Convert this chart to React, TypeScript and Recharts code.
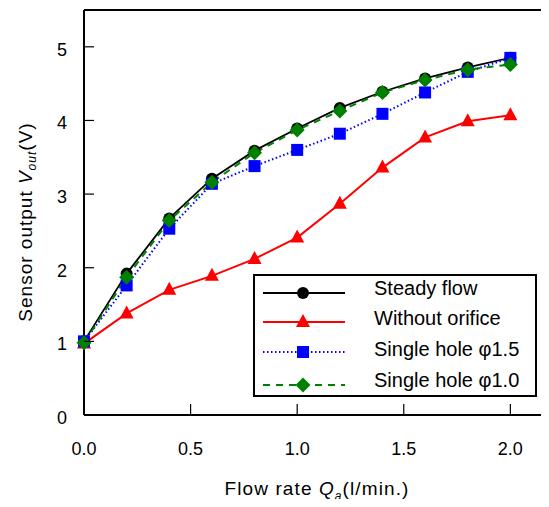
import React from 'react';
import { LineChart, Line, XAxis, YAxis, ReferenceLine, Legend } from 'recharts';

// flow rate Qa (l/min.) and sensor output Vout (V)
const flow = [0, 0.2, 0.4, 0.6, 0.8, 1.0, 1.2, 1.4, 1.6, 1.8, 2.0];
const steady = [1.0, 1.92, 2.67, 3.21, 3.59, 3.89, 4.17, 4.39, 4.57, 4.72, 4.85];
const withoutOrifice = [0.97, 1.38, 1.7, 1.89, 2.12, 2.41, 2.87, 3.36, 3.77, 3.99, 4.07];
const hole15 = [1.0, 1.76, 2.53, 3.14, 3.38, 3.6, 3.82, 4.09, 4.38, 4.66, 4.85];
const hole10 = [0.98, 1.87, 2.64, 3.16, 3.56, 3.87, 4.13, 4.38, 4.55, 4.69, 4.76];

const xTicks = [0, 0.5, 1.0, 1.5, 2.0];
const yTicks = [0, 1, 2, 3, 4, 5];

const data = flow.map((q, i) => ({
	q,
	steady: steady[i],
	without: withoutOrifice[i],
	hole15: hole15[i],
	hole10: hole10[i],
}));

const FONT = '"Liberation Sans", Arial, sans-serif';

const Marker = ({ kind, cx, cy }: { kind: string; cx: number; cy: number }) => {
	if (kind === 'circle') return <circle cx={cx} cy={cy} r={6} fill="#000" />;
	if (kind === 'triangle')
		return <polygon points={`${cx},${cy - 8} ${cx - 7},${cy + 5} ${cx + 7},${cy + 5}`} fill="#ff0000" />;
	if (kind === 'square') return <rect x={cx - 6} y={cy - 6} width={12} height={12} fill="#0000ff" />;
	return <polygon points={`${cx},${cy - 7.5} ${cx + 7.5},${cy} ${cx},${cy + 7.5} ${cx - 7.5},${cy}`} fill="#008000" />;
};

const series = [
	{ key: 'steady', name: 'Steady flow', color: '#000', dash: undefined, width: 1.8, kind: 'circle' },
	{ key: 'without', name: 'Without orifice', color: '#ff0000', dash: undefined, width: 2, kind: 'triangle' },
	{ key: 'hole15', name: 'Single hole φ1.5', color: '#0000ff', dash: '1.5 2.5', width: 2, kind: 'square' },
	{ key: 'hole10', name: 'Single hole φ1.0', color: '#008000', dash: '7 6', width: 2, kind: 'diamond' },
];

// legend rows: sample line y and text baseline inside the box
const rowY = [17, 46, 76, 109];
const textY = [19, 49, 80, 111];

const LegendBox = () => (
	<div style={{ width: 280, height: 119, border: '2px solid #000', background: '#fff' }}>
		<svg width={280} height={119} style={{ overflow: 'visible', display: 'block' }}>
			{series.map((s, i) => (
				<g key={s.key}>
					<line x1={8} x2={90} y1={rowY[i]} y2={rowY[i]} stroke={s.color} strokeWidth={s.width} strokeDasharray={s.dash} />
					<Marker kind={s.kind} cx={48} cy={rowY[i]} />
					<text x={119} y={textY[i]} fontFamily={FONT} fontSize={20} fill="#000">{s.name}</text>
				</g>
			))}
		</svg>
	</div>
);

const XTick = ({ x, y, payload }: any) => (
	<g>
		<line x1={x} x2={x} y1={y} y2={y - 11} stroke="#000" strokeWidth={1.2} />
		<text x={x} y={y + 40} textAnchor="middle" fontFamily={FONT} fontSize={18} fill="#000">
			{Number(payload.value).toFixed(1)}
		</text>
	</g>
);

const YTick = ({ x, y, payload }: any) => (
	<g>
		<line x1={x} x2={x + 10} y1={y} y2={y} stroke="#000" strokeWidth={1.2} />
		<text x={x - 17} y={y + 9} textAnchor="end" fontFamily={FONT} fontSize={18} fill="#000">
			{payload.value}
		</text>
	</g>
);

export default function App() {
	return (
		<div style={{ margin: -8, width: 549, height: 507, overflow: 'hidden', background: '#fff' }}>
			<LineChart width={560} height={507} data={data} margin={{ top: 10, right: 7, left: 0, bottom: 0 }}>
				<XAxis
					dataKey="q"
					type="number"
					domain={[0, 2.2]}
					ticks={xTicks}
					height={92}
					tickSize={0}
					tickMargin={0}
					tickLine={false}
					axisLine={{ stroke: '#000', strokeWidth: 2 }}
					tick={<XTick />}
				/>
				<YAxis
					type="number"
					domain={[0, 5.5]}
					ticks={yTicks}
					width={84}
					tickSize={0}
					tickMargin={0}
					tickLine={false}
					axisLine={{ stroke: '#000', strokeWidth: 2 }}
					tick={<YTick />}
				/>
				<ReferenceLine y={5.5} stroke="#000" strokeWidth={2} />
				{series.map((s) => (
					<Line
						key={s.key}
						dataKey={s.key}
						name={s.name}
						type="linear"
						stroke={s.color}
						strokeWidth={s.width}
						strokeDasharray={s.dash}
						isAnimationActive={false}
						dot={(p: any) => <Marker key={`${s.key}-${p.index}`} kind={s.kind} cx={p.cx} cy={p.cy} />}
						activeDot={false}
					/>
				))}
				<Legend
					layout="vertical"
					align="center"
					verticalAlign="middle"
					content={<LegendBox />}
					wrapperStyle={{ left: 253, top: 274, width: 284, height: 123, right: 'auto', bottom: 'auto' }}
				/>
				<text x={317} y={495} textAnchor="middle" fontFamily={FONT} fontSize={19} letterSpacing={1.1} fill="#000">
					<tspan>Flow rate </tspan>
					<tspan fontStyle="italic">Q</tspan>
					<tspan fontStyle="italic" fontSize={12} dy={5}>a</tspan>
					<tspan dy={-5}>(l/min.)</tspan>
				</text>
				<text
					transform="translate(32, 222) rotate(-90)"
					textAnchor="middle"
					fontFamily={FONT}
					fontSize={19}
					letterSpacing={1}
					fill="#000"
				>
					<tspan>Sensor output </tspan>
					<tspan fontStyle="italic">V</tspan>
					<tspan fontStyle="italic" fontSize={12} dy={4}>out</tspan>
					<tspan dy={-4}>(V)</tspan>
				</text>
			</LineChart>
		</div>
	);
}
